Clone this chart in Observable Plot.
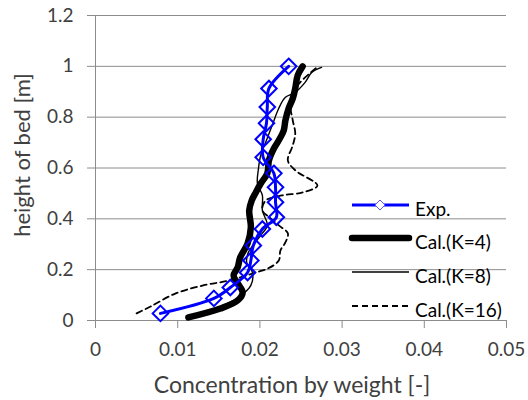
<!DOCTYPE html>
<html><head><meta charset="utf-8">
<script src="https://cdn.jsdelivr.net/npm/d3@7"></script>
<script src="https://cdn.jsdelivr.net/npm/@observablehq/plot@0.6"></script>
<style>body{margin:0;background:#fff;}</style>
</head><body><div id="chart"></div>
<script>
// Tick values
const xTicks = [0, 0.01, 0.02, 0.03, 0.04, 0.05];
const yTicks = [0, 0.2, 0.4, 0.6, 0.8, 1, 1.2];

// Exp. (measured)
const expX = [0.0079,0.0144,0.0164,0.0185,0.0189,0.0192,0.0203,0.0220,0.0219,0.0219,0.0217,0.0204,0.0204,0.0208,0.0209,0.0211,0.0235];
const expH = [0.028,0.087,0.13,0.189,0.236,0.295,0.36,0.406,0.465,0.524,0.579,0.642,0.713,0.776,0.84,0.913,1.0];

// Cal.(K=4)
const k4X = [0.0113,0.0152,0.0173,0.0179,0.0173,0.0168,0.0173,0.0176,0.0185,0.0189,0.0187,0.0190,0.0195,0.0201,0.0209,0.0211,0.0217,0.0223,0.0229,0.0231,0.0235,0.0240,0.0243,0.0246,0.0252];
const k4H = [0.012,0.047,0.079,0.110,0.146,0.177,0.209,0.248,0.303,0.366,0.433,0.472,0.504,0.539,0.579,0.630,0.677,0.709,0.748,0.787,0.835,0.874,0.913,0.965,1.0];

// Cal.(K=8)
const k8X = [0.0116,0.0152,0.0174,0.0189,0.0191,0.0184,0.0186,0.0201,0.0209,0.0203,0.0203,0.0197,0.0198,0.0201,0.0208,0.0215,0.0223,0.0231,0.0243,0.0255,0.0263,0.0275];
const k8H = [0.020,0.055,0.091,0.138,0.189,0.228,0.268,0.335,0.374,0.433,0.492,0.539,0.591,0.650,0.709,0.768,0.835,0.878,0.898,0.937,0.976,0.996];

// Cal.(K=16)
const k16X = [0.0050,0.0067,0.0097,0.0131,0.0162,0.0195,0.0210,0.0223,0.0225,0.0231,0.0234,0.0223,0.0213,0.0203,0.0207,0.0227,0.0252,0.0270,0.0243,0.0234,0.0240,0.0243,0.0240,0.0237,0.0240,0.0249,0.0262,0.0271];
const k16H = [0.028,0.055,0.106,0.138,0.157,0.189,0.205,0.236,0.276,0.307,0.343,0.374,0.402,0.433,0.472,0.492,0.504,0.531,0.591,0.630,0.689,0.736,0.787,0.846,0.898,0.937,0.976,1.0];

const legendLabels = ["Exp.", "Cal.(K=4)", "Cal.(K=8)", "Cal.(K=16)"];

const rows = (xs, hs) => xs.map((x, i) => ({x, h: hs[i]}));
const grid = "#8c8c8c";
const txt = "#404040";
const FONT = "Lato";

const plot = Plot.plot({
  width: 528, height: 400,
  marginLeft: 95, marginRight: 22, marginTop: 15, marginBottom: 80,
  style: {fontFamily: FONT, background: "white", color: txt, overflow: "visible"},
  x: {domain: [0, 0.05]},
  y: {domain: [0, 1.2]},
  marks: [
    Plot.ruleY(yTicks, {stroke: grid, strokeWidth: 1}),
    Plot.ruleX([0], {stroke: grid, strokeWidth: 1}),
    Plot.axisY(yTicks, {tickSize: 8, tickPadding: 14, stroke: grid, fill: txt, fontSize: 19, tickFormat: d => String(d), label: null}),
    Plot.axisX(xTicks, {tickSize: 8, tickPadding: 14, stroke: grid, fill: txt, fontSize: 19, tickFormat: d => String(d), label: null}),
    Plot.line(rows(k16X, k16H), {x: "x", y: "h", curve: "catmull-rom", stroke: "black", strokeWidth: 1.8, strokeDasharray: "6,4"}),
    Plot.line(rows(k8X, k8H), {x: "x", y: "h", curve: "catmull-rom", stroke: "black", strokeWidth: 1.4}),
    Plot.line(rows(k4X, k4H), {x: "x", y: "h", curve: "catmull-rom", stroke: "black", strokeWidth: 6.5}),
    Plot.line(rows(expX, expH), {x: "x", y: "h", curve: "catmull-rom", stroke: "#0000ff", strokeWidth: 3}),
    Plot.dot(rows(expX, expH), {x: "x", y: "h", symbol: "diamond2", r: 7, stroke: "#0000ff", strokeWidth: 2, fill: "none"}),
    Plot.text(["Concentration by weight [-]"], {frameAnchor: "bottom", dx: -9, dy: 65, fontSize: 23, fill: txt, lineAnchor: "middle", textAnchor: "middle"}),
    Plot.text(["height of bed [m]"], {frameAnchor: "left", dx: -73, dy: -13, rotate: -90, fontSize: 22, fill: txt, lineAnchor: "middle", textAnchor: "middle"})
  ]
});
document.getElementById("chart").append(plot);

// Legend (inside plot area, no background)
const svg = d3.select(plot);
const lg = svg.append("g").attr("text-anchor", "start");
const ly = [205, 238, 272, 306];
const styles = [
  {stroke: "#0000ff", w: 3, dash: null},
  {stroke: "black", w: 6.5, dash: null, cap: "round"},
  {stroke: "black", w: 1.4, dash: null},
  {stroke: "black", w: 1.8, dash: "6,4"}
];
legendLabels.forEach((label, i) => {
  const s = styles[i];
  const l = lg.append("line").attr("x1", 352).attr("x2", 409).attr("y1", ly[i]).attr("y2", ly[i])
    .attr("stroke", s.stroke).attr("stroke-width", s.w);
  if (s.dash) l.attr("stroke-dasharray", s.dash);
  if (s.cap) l.attr("stroke-linecap", s.cap);
  if (i === 0) {
    lg.append("path").attr("d", `M380,${ly[i]-5}L385,${ly[i]}L380,${ly[i]+5}L375,${ly[i]}Z`)
      .attr("fill", "white").attr("stroke", "#5555ff").attr("stroke-width", 1);
  }
  lg.append("text").attr("x", 415).attr("y", ly[i] + 3).attr("dominant-baseline", "central")
    .attr("text-anchor", "start")
    .attr("font-family", FONT).attr("font-size", 19).attr("fill", "#000").text(label);
});
</script>
</body></html>
